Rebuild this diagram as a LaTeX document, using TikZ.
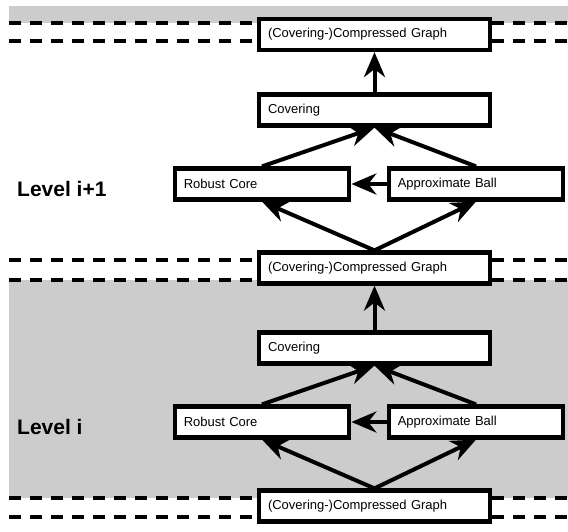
\documentclass[tikz,border=0pt]{standalone}
\usepackage{fontspec}
\setmainfont{Liberation Sans}
\usetikzlibrary{arrows.meta}
\tikzset{
    every picture/.style={x=1pt,y=-1pt},
    band/.style={fill=black!20},
    border/.style={line width=3.2pt, dash pattern=on 12pt off 9pt},
    box/.style={draw, fill=white, line width=4.2pt, minimum height=31pt,
          inner xsep=9pt, align=left, font=\fontsize{13}{15}\selectfont},
    graphbox/.style={box, text width=213pt},
    stepbox/.style={box, text width=156.5pt},
    levellabel/.style={anchor=west, inner sep=0pt, font=\fontsize{21}{25}\selectfont\bfseries},
    flow/.style={-{Stealth[length=25pt,width=21pt,inset=8pt]}, line width=4pt},
}

\begin{document}
\begin{tikzpicture}
    \useasboundingbox (0,0) rectangle (568,531);
    % grey bands and level borders
    \fill[band] (9,6) rectangle (568,23);
    \fill[band] (9,280) rectangle (568,498);
    \foreach \y in {23,41,260,280,498,517}
        \draw[border] (9,\y) -- (568,\y);

    \node[graphbox] (cg2) at (374.5,34.5) {(Covering-)Compressed Graph};
    \node[graphbox] (cg1) at (374.5,268) {(Covering-)Compressed Graph};
    \node[graphbox] (cg0) at (374.5,506) {(Covering-)Compressed Graph};

    % level i+1
    \node[graphbox] (cov1) at (374.5,110) {Covering};
    \node[stepbox] (core1) at (262,184) {Robust Core};
    \node[stepbox] (ball1) at (476,184) {Approximate Ball};
    \node[levellabel] (lvl1) at (17,189) {Level i+1};

    % level i
    \node[graphbox] (cov0) at (374.5,348) {Covering};
    \node[stepbox] (core0) at (262,422) {Robust Core};
    \node[stepbox] (ball0) at (476,422) {Approximate Ball};
    \node[levellabel] (lvl0) at (17,427) {Level i};

    \draw[flow] (cg1.north) -- (core1.south);
    \draw[flow] (cg1.north) -- (ball1.south);
    \draw[flow] (ball1.west) -- (core1.east);
    \draw[flow] (core1.north) -- (cov1.south);
    \draw[flow] (ball1.north) -- (cov1.south);
    \draw[flow] (cov1.north) -- (cg2.south);

    \draw[flow] (cg0.north) -- (core0.south);
    \draw[flow] (cg0.north) -- (ball0.south);
    \draw[flow] (ball0.west) -- (core0.east);
    \draw[flow] (core0.north) -- (cov0.south);
    \draw[flow] (ball0.north) -- (cov0.south);
    \draw[flow] (cov0.north) -- (cg1.south);
\end{tikzpicture}
\end{document}
